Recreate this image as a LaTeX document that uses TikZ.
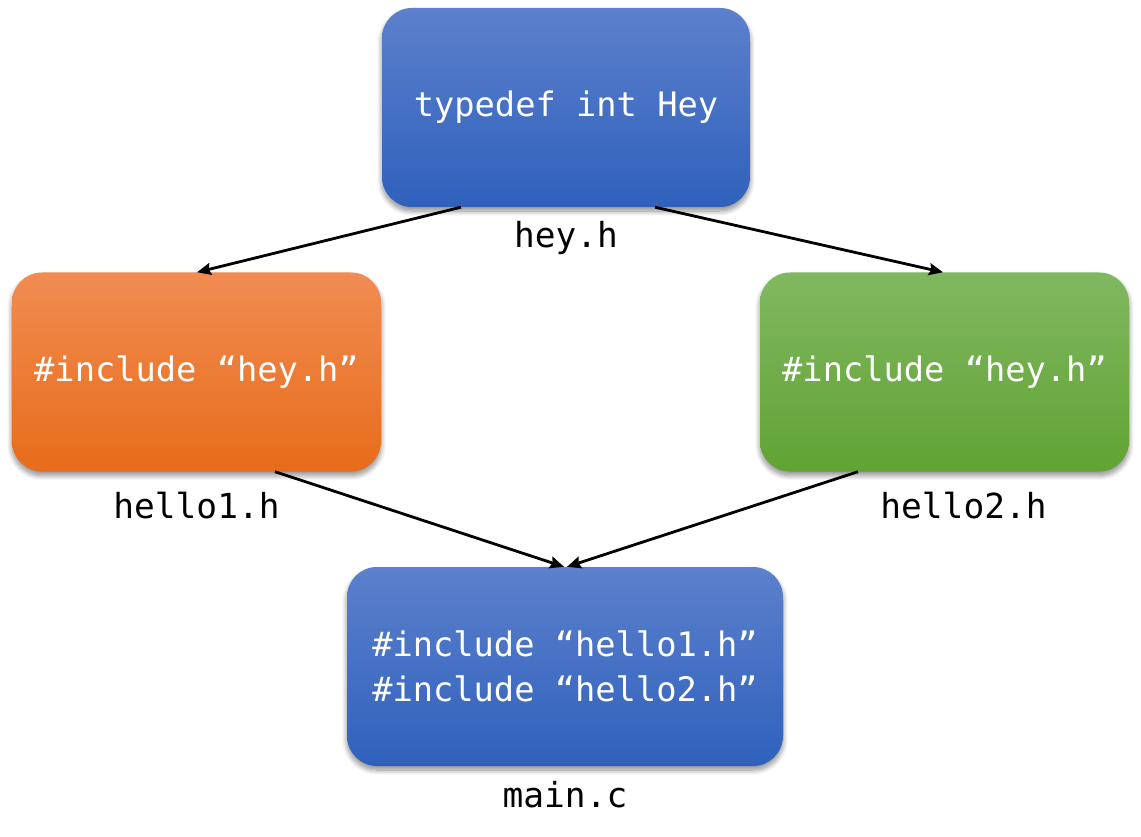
\documentclass[tikz,border=0pt]{standalone}
\usepackage{fontspec}
\setmonofont{DejaVu Sans Mono}
\usetikzlibrary{arrows.meta,shadows.blur}
\definecolor{blueTop}{HTML}{5C80CC}
\definecolor{blueBot}{HTML}{2F61BC}
\definecolor{orangeTop}{HTML}{F18C52}
\definecolor{orangeBot}{HTML}{E76C1A}
\definecolor{greenTop}{HTML}{80B860}
\definecolor{greenBot}{HTML}{61A334}
\tikzset{
  filebox/.style={rectangle, rounded corners=30pt, inner sep=0pt,
    minimum height=199pt, text=white, align=center,
    font=\ttfamily\fontsize{33.7}{45}\selectfont,
    blur shadow={shadow xshift=0pt, shadow yshift=-4pt, shadow blur radius=5pt,
      shadow blur steps=10, shadow opacity=45}},
  bluebox/.style={filebox, top color=blueTop, bottom color=blueBot},
  orangebox/.style={filebox, top color=orangeTop, bottom color=orangeBot},
  greenbox/.style={filebox, top color=greenTop, bottom color=greenBot},
  fname/.style={inner sep=0pt, font=\ttfamily\fontsize{34.5}{40}\selectfont},
  link/.style={line width=2.8pt, -{Stealth[length=14pt,width=12pt,inset=2pt]}}
}
\begin{document}
\begin{tikzpicture}[x=1pt,y=-1pt]
\useasboundingbox (0,0) rectangle (1141,837);
% source files
\node[bluebox, minimum width=368pt] (hey) at (566,107.5) {typedef int Hey};
\node[orangebox, minimum width=369pt] (hello1) at (196.5,372) {\#include “hey.h”};
\node[greenbox, minimum width=369pt] (hello2) at (944.5,372) {\#include “hey.h”};
\node[bluebox, minimum width=436pt] (main) at (565,666.5) {\#include “hello1.h”\\\#include “hello2.h”};
% file names
\node[fname] (heyname) at (566,238) {hey.h};
\node[fname] (hello1name) at (196.5,506) {hello1.h};
\node[fname] (hello2name) at (963.5,506) {hello2.h};
\node[fname] (mainname) at (565,795) {main.c};
% include relations
\draw[link] ([xshift=-105pt]hey.south) -- ([xshift=0.5pt]hello1.north);
\draw[link] ([xshift=89pt]hey.south) -- ([xshift=-1.5pt]hello2.north);
\draw[link] ([xshift=78.5pt]hello1.south) -- ([xshift=-1pt]main.north);
\draw[link] ([xshift=-86.5pt]hello2.south) -- ([xshift=2pt]main.north);
\end{tikzpicture}
\end{document}
